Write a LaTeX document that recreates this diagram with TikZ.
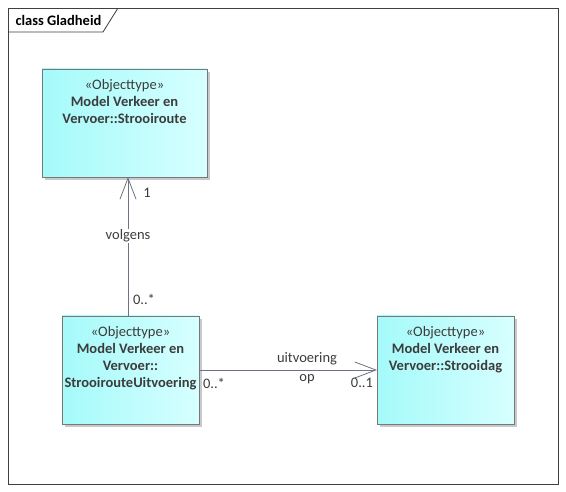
\documentclass[tikz,border=0pt]{standalone}
\usepackage{fontspec}
\setmainfont{Carlito}
\usetikzlibrary{arrows.meta,shadows}
\definecolor{txt}{RGB}{60,60,60}
\definecolor{edge}{RGB}{110,115,130}
\definecolor{boxline}{RGB}{120,120,120}
\begin{document}
\begin{tikzpicture}[x=1pt,y=-1pt,
  every node/.style={font=\fontsize{14.5}{17}\selectfont, text=txt},
  cls/.style={draw=boxline, line width=0.8pt, anchor=north west, inner sep=0pt,
    left color={rgb,255:red,165;green,250;blue,250}, right color={rgb,255:red,215;green,255;blue,255},
    drop shadow={shadow xshift=3pt, shadow yshift=-3pt, fill=black!35, opacity=0.6},
    align=center},
  conn/.style={draw=edge, line width=0.8pt},
  opentip/.style={-{Straight Barb[length=21pt,width=16pt,line width=0.8pt]}},
  lbl/.style={inner sep=1pt, fill=white}
]
\useasboundingbox (0,0) rectangle (566,492);
\fill[white] (0,0) rectangle (566,492);
% frame
\draw[black!75, line width=0.8pt] (8,8) rectangle (558,484);
\draw[black!75, line width=0.8pt] (8,32) -- (103,32) -- (118,8);
\node[anchor=west, font=\fontsize{14.5}{16}\selectfont\bfseries, text=black] (title) at (12,20) {class Gladheid};
% boxes
\path[cls] (42,69) rectangle (207,177);
\node[anchor=north, align=center] (t1) at (124.5,76) {«Objecttype»\\\textbf{Model Verkeer en}\\\textbf{Vervoer::Strooiroute}};
\coordinate (b1s) at (128,177);
\path[cls] (62,316) rectangle (199,424);
\node[anchor=north, align=center] (t2) at (130.5,323) {«Objecttype»\\\textbf{Model Verkeer en}\\\textbf{Vervoer::}\\\textbf{StrooirouteUitvoering}};
\coordinate (b2n) at (128,316);
\coordinate (b2e) at (199,370);
\path[cls] (377,316) rectangle (514,424);
\node[anchor=north, align=center] (t3) at (445.5,323) {«Objecttype»\\\textbf{Model Verkeer en}\\\textbf{Vervoer::Strooidag}};
\coordinate (b3w) at (377,370);
% connectors
\draw[conn, opentip] (b2n) -- (b1s);
\node[lbl] (volgens) at (128,236) {volgens};
\node (m1) at (147,193) {1};
\node (m2) at (144,299) {0..*};
\draw[conn, opentip] (b2e) -- (b3w);
\node[inner sep=1pt] (uit) at (307,359) {uitvoering};
\node[lbl, inner sep=0.5pt] (op) at (307,379) {op};
\node (m3) at (214,383) {0..*};
\node (m4) at (362,383) {0..1};
\end{tikzpicture}
\end{document}
